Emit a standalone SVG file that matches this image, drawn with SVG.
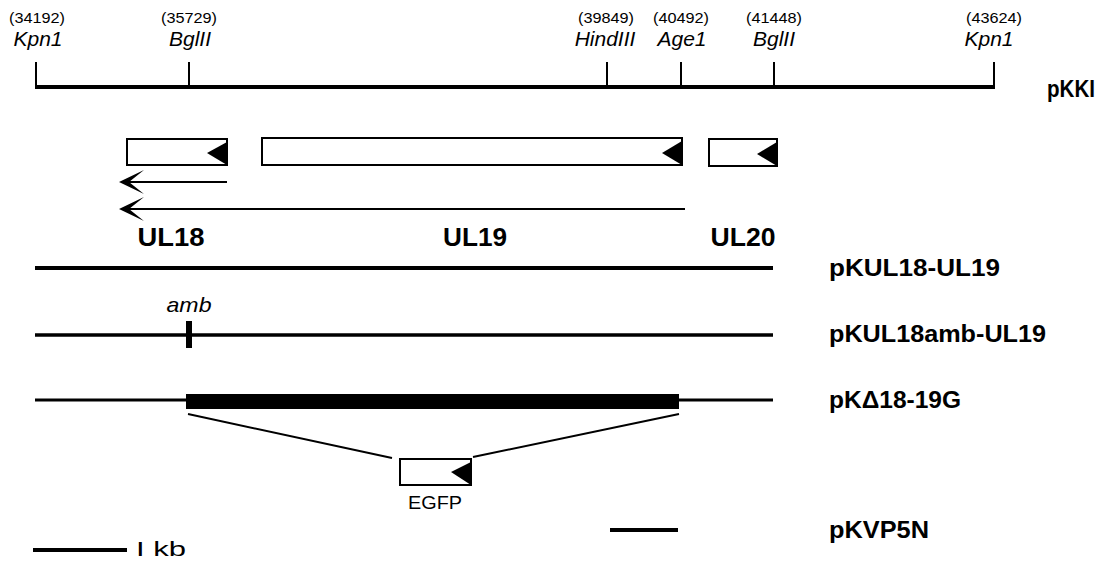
<svg xmlns="http://www.w3.org/2000/svg" width="1111" height="561" viewBox="0 0 1111 561">
<style>
.num{font-family:"Liberation Sans",Arial,sans-serif;font-size:15px;text-anchor:middle;fill:#000}
.site{font-family:"Liberation Sans",Arial,sans-serif;font-size:21px;font-style:italic;text-anchor:middle;fill:#000}
.gene{font-family:"Liberation Sans",Arial,sans-serif;font-size:25px;font-weight:bold;text-anchor:middle;fill:#000}
.lbl{font-family:"Liberation Sans",Arial,sans-serif;font-size:24px;font-weight:bold;fill:#000}
.ln{stroke:#000;fill:none}
.box{fill:#fff;stroke:#000;stroke-width:2}
.tri{fill:#000}
</style>
<rect width="1111" height="561" fill="#fff"/>
<g id="pKKI">
<line class="ln" x1="35" y1="87" x2="995" y2="87" stroke-width="4"/>
<g stroke="#000" stroke-width="2">
<line x1="36" y1="62" x2="36" y2="87"/>
<line x1="189" y1="62" x2="189" y2="87"/>
<line x1="607" y1="62" x2="607" y2="87"/>
<line x1="681" y1="62" x2="681" y2="87"/>
<line x1="774" y1="62" x2="774" y2="87"/>
<line x1="994" y1="62" x2="994" y2="87"/>
</g>
<text class="num" x="37" y="23" textLength="56" lengthAdjust="spacingAndGlyphs">(34192)</text>
<text class="site" x="38" y="46">Kpn1</text>
<text class="num" x="189" y="23" textLength="56" lengthAdjust="spacingAndGlyphs">(35729)</text>
<text class="site" x="190" y="46">BglII</text>
<text class="num" x="606" y="23" textLength="56" lengthAdjust="spacingAndGlyphs">(39849)</text>
<text class="site" x="605" y="46">HindIII</text>
<text class="num" x="681" y="23" textLength="56" lengthAdjust="spacingAndGlyphs">(40492)</text>
<text class="site" x="682" y="46">Age1</text>
<text class="num" x="774" y="23" textLength="56" lengthAdjust="spacingAndGlyphs">(41448)</text>
<text class="site" x="774" y="46">BglII</text>
<text class="num" x="994" y="23" textLength="56" lengthAdjust="spacingAndGlyphs">(43624)</text>
<text class="site" x="989" y="46">Kpn1</text>
<text class="lbl" x="1047" y="97" textLength="48" lengthAdjust="spacingAndGlyphs">pKKI</text>
</g>
<g id="UL18">
<rect class="box" x="127" y="139" width="100" height="26"/>
<polygon class="tri" points="227,142 207,153 227,165"/>
<text class="gene" x="171" y="246" textLength="67" lengthAdjust="spacingAndGlyphs">UL18</text>
</g>
<g id="UL19">
<rect class="box" x="262" y="138" width="420" height="27"/>
<polygon class="tri" points="682,141 662,153 682,165"/>
<text class="gene" x="475" y="246" textLength="64" lengthAdjust="spacingAndGlyphs">UL19</text>
</g>
<g id="UL20">
<rect class="box" x="709" y="139" width="68" height="27"/>
<polygon class="tri" points="777,142 757,154 777,166"/>
<text class="gene" x="743" y="246" textLength="65" lengthAdjust="spacingAndGlyphs">UL20</text>
</g>
<g id="connectors">
<line class="ln" x1="227" y1="182" x2="124" y2="182" stroke-width="2"/>
<polygon points="119,182 144,170 129,182 144,194" fill="#000"/>
<line class="ln" x1="685" y1="209" x2="124" y2="209" stroke-width="2"/>
<polygon points="119,209 144,197 129,209 144,221" fill="#000"/>
<line class="ln" x1="188" y1="414" x2="392" y2="458" stroke-width="2"/>
<line class="ln" x1="679" y1="414" x2="473" y2="457" stroke-width="2"/>
</g>
<g id="pKUL18-UL19">
<line class="ln" x1="35" y1="268" x2="773" y2="268" stroke-width="4"/>
<text class="lbl" x="829" y="276" textLength="171" lengthAdjust="spacingAndGlyphs">pKUL18-UL19</text>
</g>
<g id="pKUL18amb-UL19">
<line class="ln" x1="35" y1="335" x2="773" y2="335" stroke-width="3.5"/>
<rect x="186" y="321" width="6" height="27" fill="#000"/>
<text class="site" x="189" y="312" style="font-size:21px" textLength="45" lengthAdjust="spacingAndGlyphs">amb</text>
<text class="lbl" x="829" y="342" textLength="217" lengthAdjust="spacingAndGlyphs">pKUL18amb-UL19</text>
</g>
<g id="pKD18-19G">
<line class="ln" x1="35" y1="400" x2="773" y2="400" stroke-width="3"/>
<rect x="186" y="394" width="493" height="15" fill="#000"/>
<text class="lbl" x="829" y="408" textLength="132" lengthAdjust="spacingAndGlyphs">pKΔ18-19G</text>
</g>
<g id="EGFP">
<rect class="box" x="400" y="459" width="71" height="26"/>
<polygon class="tri" points="471,462 451,472 471,485"/>
<text x="435" y="509" font-family="Liberation Sans, Arial, sans-serif" font-size="18" text-anchor="middle" textLength="54" lengthAdjust="spacingAndGlyphs">EGFP</text>
</g>
<g id="pKVP5N">
<line class="ln" x1="610" y1="530" x2="678" y2="530" stroke-width="4"/>
<text class="lbl" x="829" y="538" textLength="100" lengthAdjust="spacingAndGlyphs">pKVP5N</text>
</g>
<g id="scale">
<line class="ln" x1="33" y1="550" x2="127" y2="550" stroke-width="4"/>
<text x="136" y="556" font-family="Liberation Sans, Arial, sans-serif" font-size="20" textLength="50" lengthAdjust="spacingAndGlyphs">I kb</text>
</g>
</svg>
